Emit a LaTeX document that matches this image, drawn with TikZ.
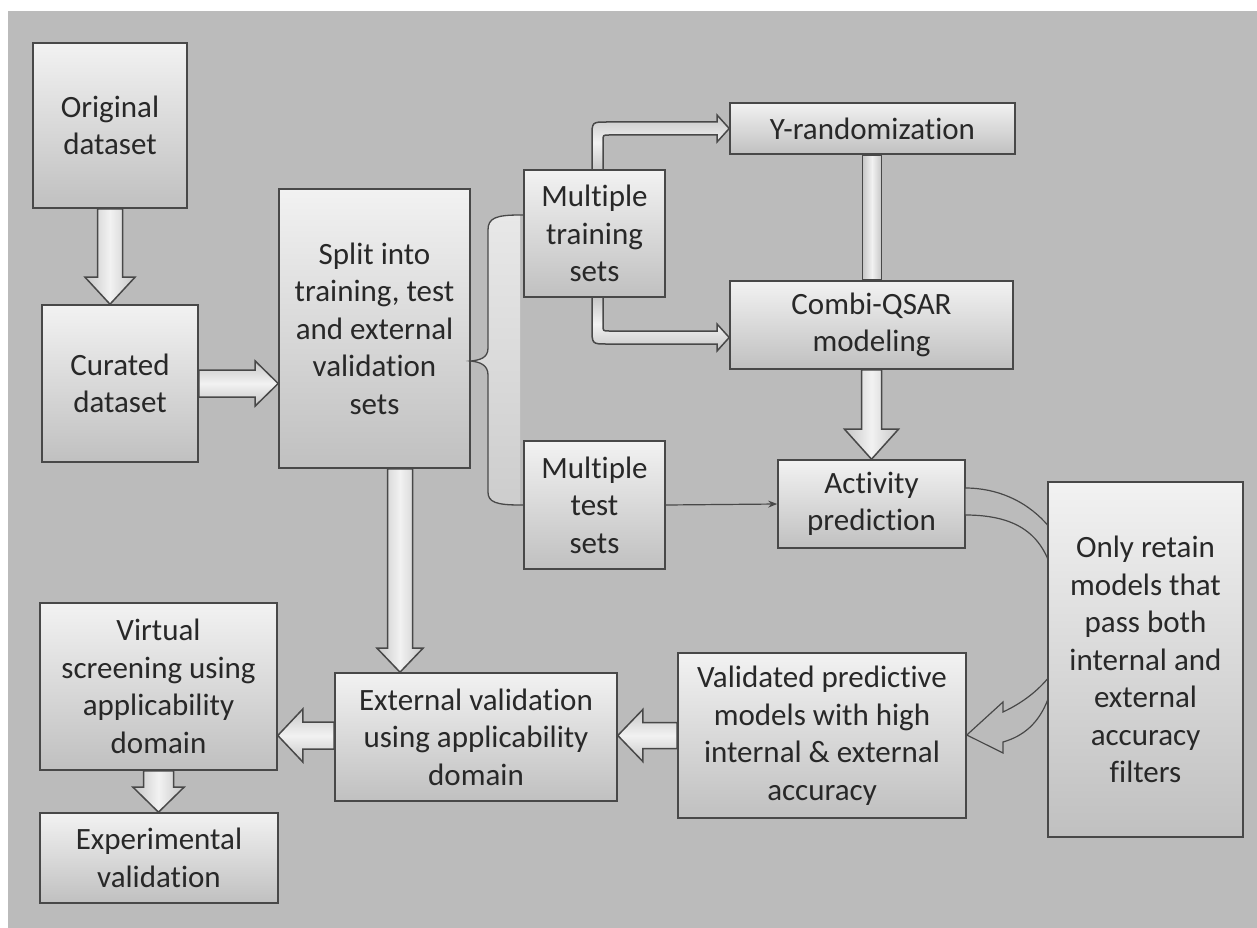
\documentclass[tikz,border=0pt]{standalone}
\usepackage{fontspec}
\setmainfont{Carlito}[Ligatures=NoCommon]
\usetikzlibrary{calc,arrows.meta}
\definecolor{bg}{RGB}{187,187,187}
\definecolor{bordc}{RGB}{72,72,72}
\definecolor{boxtop}{RGB}{242,242,242}
\definecolor{boxbot}{RGB}{192,192,192}
\definecolor{txt}{RGB}{40,40,40}
\definecolor{armid}{RGB}{242,242,242}
\definecolor{arside}{RGB}{198,198,198}
\definecolor{bracetop}{RGB}{232,232,232}
\definecolor{bracebot}{RGB}{205,205,205}
\tikzset{
  box/.style={draw=bordc, line width=1.6pt, top color=boxtop, bottom color=boxbot,
    text=txt, align=center, inner sep=0pt, font=\fontsize{31}{37.5}\selectfont},
  blk/.style={draw=bordc, line width=1.5pt, line join=miter},
  vshade/.style={left color=arside, right color=arside, middle color=armid},
  hshade/.style={top color=arside, bottom color=arside, middle color=armid},
}
\newcommand\boxnode[6]{\node[box,minimum width={#4-#2},minimum height={#5-#3}] (#1) at ({(#2+#4)/2},{(#3+#5)/2}) {#6};}
% down block arrow: from, to, shaft half width, head half width, head length
\newcommand\blkdown[5]{\draw[blk,vshade]
  ($(#1)+(-#3,0)$) -- ($(#1|-#2)+(-#3,-#5)$) -- ($(#1|-#2)+(-#4,-#5)$) -- (#1|-#2)
  -- ($(#1|-#2)+(#4,-#5)$) -- ($(#1|-#2)+(#3,-#5)$) -- ($(#1)+(#3,0)$) -- cycle;}
\newcommand\blkright[5]{\draw[blk,hshade]
  ($(#1)+(0,-#3)$) -- ($(#2|-#1)+(-#5,-#3)$) -- ($(#2|-#1)+(-#5,-#4)$) -- (#2|-#1)
  -- ($(#2|-#1)+(-#5,#4)$) -- ($(#2|-#1)+(-#5,#3)$) -- ($(#1)+(0,#3)$) -- cycle;}
\newcommand\blkleft[5]{\draw[blk,hshade]
  ($(#1)+(0,-#3)$) -- ($(#2|-#1)+(#5,-#3)$) -- ($(#2|-#1)+(#5,-#4)$) -- (#2|-#1)
  -- ($(#2|-#1)+(#5,#4)$) -- ($(#2|-#1)+(#5,#3)$) -- ($(#1)+(0,#3)$) -- cycle;}
\begin{document}
\begin{tikzpicture}[x=1pt,y=-1pt]
\useasboundingbox (0,0) rectangle (1257,928);
\fill[white] (0,0) rectangle (1257,928);
\fill[bg] (8,11) rectangle (1257,928);

\boxnode{orig}{33}{43}{187}{208}{Original\\dataset}
\boxnode{cur}{42}{305}{198}{462}{Curated\\dataset}
\boxnode{split}{279}{189}{470}{468}{Split into\\training, test\\and external\\validation\\sets}
\boxnode{mtrain}{524}{170}{665}{297}{Multiple\\training\\sets}
\boxnode{mtest}{524}{441}{665}{569}{Multiple\\test\\sets}
\boxnode{yrand}{730}{103}{1015}{154}{Y-randomization}
\boxnode{combi}{730}{281}{1013}{369}{Combi-QSAR\\modeling}
\boxnode{act}{778}{460}{965}{548}{Activity\\prediction}
\boxnode{valid}{678}{653}{966}{818}{Validated predictive\\models with high\\internal \& external\\accuracy}
\boxnode{ext}{335}{673}{617}{801}{External validation\\using applicability\\domain}
\boxnode{virt}{40}{603}{277}{770}{Virtual\\screening using\\applicability\\domain}
\boxnode{expt}{40}{813}{278}{903}{Experimental\\validation}

% curved arrow from Activity prediction, passing behind the filter box
\draw[bordc, line width=1.2pt, fill=bg, line join=miter]
  (965,488) .. controls (1030,488) and (1075,540) .. (1075,600)
  .. controls (1075,650) and (1050,690) .. (1003,712)
  -- (1003,702) -- (valid.east |- 0,735) -- (1003,753) -- (1003,742)
  .. controls (1045,730) and (1058,690) .. (1058,625)
  .. controls (1058,550) and (1035,515) .. (965,515) -- cycle;

\boxnode{only}{1048}{482}{1243}{837}{Only retain\\models that\\pass both\\internal and\\external\\accuracy\\filters}

% brace from split box to the two set boxes
\shade[top color=bracetop, bottom color=bracebot]
  (520,215) .. controls (496,215) and (488,218) .. (488,230) -- (488,348)
  .. controls (488,358) and (480,360) .. (471,361)
  .. controls (480,362) and (488,365) .. (488,375) -- (488,492)
  .. controls (488,502) and (496,505) .. (520,505) -- cycle;
\draw[bordc, line width=1.3pt]
  (mtrain.west |- 0,215) -- (520,215) .. controls (496,215) and (488,218) .. (488,230) -- (488,348)
  .. controls (488,358) and (480,360) .. (split.east |- 0,361)
  .. controls (480,362) and (488,365) .. (488,375) -- (488,492)
  .. controls (488,502) and (496,505) .. (520,505) -- (mtest.west);

% straight block arrows
\blkdown{orig.south}{cur.north}{12.5}{25}{27}
\blkright{cur.east}{split.west}{13.5}{22.5}{23}
\coordinate (sdown) at ([xshift=25.5]split.south);
\blkdown{sdown}{ext.north}{12.5}{23}{24}
\blkdown{combi.south}{act.north}{10}{27}{30}
\blkleft{valid.west}{ext.east}{13}{26}{25}
\coordinate (eleft) at (ext.west |- valid.west);
\blkleft{eleft}{virt.east}{13.5}{26.5}{25}
\blkdown{virt.south}{expt.north}{15}{25.5}{25}

% bar between Y-randomization and Combi-QSAR
\draw[blk,vshade] ($(yrand.south)+(-10,0)$) rectangle ($(combi.north)+(10,0)$);

% bent arrows from multiple training sets
\draw[blk,hshade] (592,170) -- (592,137) .. controls (592,122) .. (607,122) -- (717,122)
  -- (717,115) -- (yrand.west) -- (717,142) -- (717,135) -- (609,135)
  .. controls (603,135) .. (603,141) -- (603,170) -- cycle;
\draw[blk,hshade] (592,297) -- (592,328) .. controls (592,344) .. (607,344) -- (717,344)
  -- (717,351) -- (combi.west |- 0,337.5) -- (717,324) -- (717,331) -- (609,331)
  .. controls (603,331) .. (603,325) -- (603,297) -- cycle;

% thin arrow from test sets to activity prediction
\draw[bordc, line width=1.2pt, -{Stealth[length=9pt,width=7pt]}] (mtest.east) -- (act.west);
\end{tikzpicture}
\end{document}
